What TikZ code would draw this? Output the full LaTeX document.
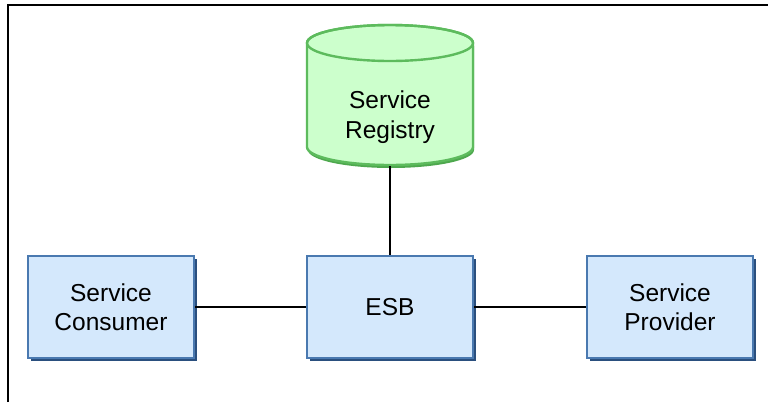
\documentclass[tikz,border=0pt]{standalone}
\usepackage{fontspec}
\setmainfont{Liberation Sans}
\definecolor{boxfill}{HTML}{D4E8FC}
\definecolor{boxline}{HTML}{4A79B0}
\definecolor{boxshadow}{HTML}{2A4F7E}
\definecolor{cylfill}{HTML}{CCFFCC}
\definecolor{cylline}{HTML}{5DBB5D}
\definecolor{cylshadow}{HTML}{4EA84E}
\begin{document}
\begin{tikzpicture}[x=1pt,y=-1pt,
  lbl/.style={font=\fontsize{24.5}{29.5}\selectfont, align=center},
  svcbox/.style={lbl, draw=boxline, line width=2.8pt, fill=boxfill, minimum width=166pt, minimum height=102pt,
    inner sep=0pt},
  conn/.style={draw=black, line width=1.2pt}]
\useasboundingbox (0,0) rectangle (768,402);
\draw[line width=1.2pt] (8,402) -- (8,5) -- (768,5);
% shadows
\foreach \cx in {111,390,670}{
  \fill[boxshadow] (\cx-83+3,256+3) rectangle (\cx+83+3,358+3);
}
\node[svcbox] (cons) at (111,307) {Service\\Consumer};
\node[svcbox] (esb) at (390,307) {ESB};
\node[svcbox] (prov) at (670,307) {Service\\Provider};
% cylinder
\fill[cylshadow] (308,46) -- (308,150) arc[start angle=180, end angle=0, x radius=83, y radius=18] -- (474,46) -- cycle;
\draw[draw=cylline, line width=2.4pt, fill=cylfill]
  (307,43) -- (307,147) arc[start angle=180, end angle=0, x radius=83, y radius=18] -- (473,43)
  arc[start angle=0, end angle=-180, x radius=83, y radius=18] -- cycle;
\draw[draw=cylline, line width=2.4pt] (390,43) ellipse[x radius=83, y radius=18];
\node[inner sep=0pt, minimum width=166pt, minimum height=142pt]
  (reg) at (390,95) {};
\node[lbl] (regtext) at (390,117) {Service\\Registry};
\draw[conn] (reg.south) -- (esb.north);
\draw[conn] (cons.east) -- (esb.west);
\draw[conn] (esb.east) -- (prov.west);
\end{tikzpicture}
\end{document}
